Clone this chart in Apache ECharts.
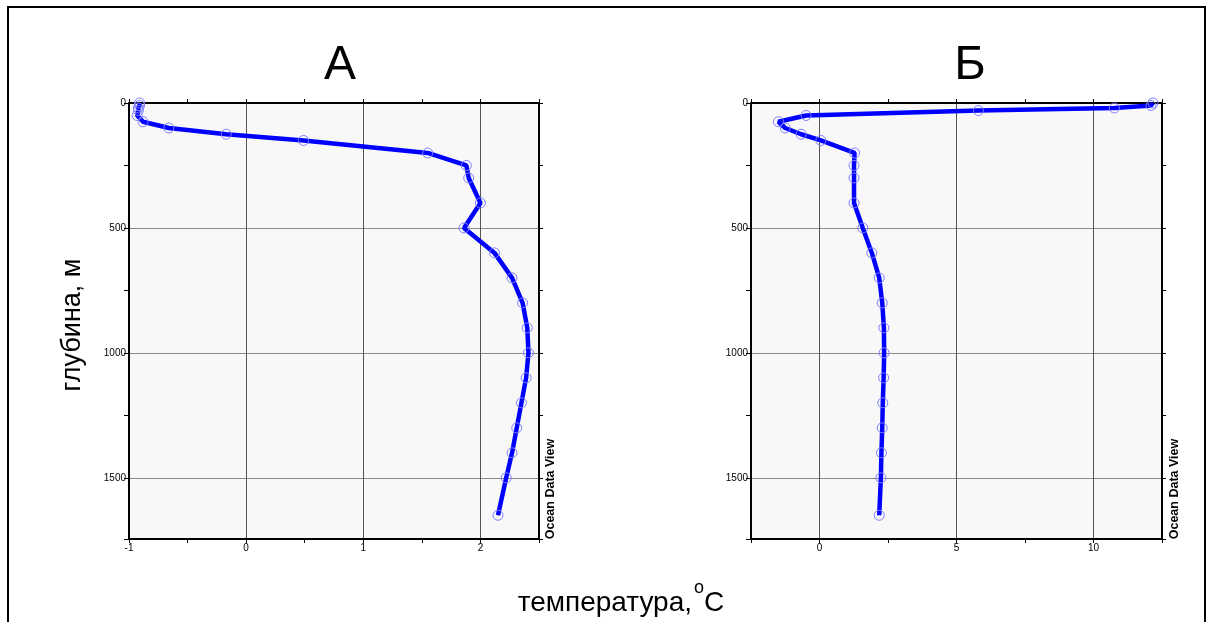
<!DOCTYPE html>
<html>
<head>
<meta charset="utf-8">
<script src="https://cdn.jsdelivr.net/npm/echarts@6/dist/echarts.min.js"></script>
<style>html,body{margin:0;padding:0;background:#fff}#c{width:1207px;height:622px}</style>
</head>
<body>
<div id="c"></div>
<script>
// Depths (m)
const depthsA = [0,10,20,30,50,75,100,125,150,200,250,300,400,500,600,700,800,900,1000,1100,1200,1300,1400,1500,1650];
const depthsB = [0,10,20,30,50,75,100,125,150,200,250,300,400,500,600,700,800,900,1000,1100,1200,1300,1400,1500,1650];
// Temperatures (°C)
const tempA = [-0.91,-0.91,-0.92,-0.92,-0.93,-0.88,-0.66,-0.17,0.49,1.55,1.88,1.90,2.00,1.86,2.12,2.27,2.36,2.40,2.41,2.39,2.35,2.31,2.27,2.22,2.15];
const tempB = [12.17,12.10,10.76,5.80,-0.49,-1.50,-1.25,-0.67,0.05,1.28,1.26,1.26,1.26,1.58,1.91,2.18,2.29,2.35,2.36,2.34,2.31,2.29,2.26,2.24,2.18];
// Titles / labels
const panelTitles = ['А', 'Б'];
const yLabel = 'глубина, м';
const xLabelMain = 'температура,';
const xLabelSup = 'o';
const xLabelUnit = 'C';
const credit = 'Ocean Data View';

const FONT = 'Liberation Sans, Arial, sans-serif';
const chart = echarts.init(document.getElementById('c'), null, {renderer: 'canvas'});

function xAxes(gi, min, max, step, labelEvery, gridColors) {
  return [
    {
      gridIndex: gi, type: 'value', position: 'bottom', min: min, max: max, interval: step,
      axisLine: {show: true, onZero: false, lineStyle: {color: '#000', width: 2}},
      axisTick: {show: true, inside: false, length: 4, lineStyle: {color: '#000', width: 1}},
      axisLabel: {show: true, fontSize: 10, color: '#000', fontFamily: FONT, margin: 4,
        formatter: v => (Math.abs(v / labelEvery - Math.round(v / labelEvery)) < 1e-6 && v > min - 1e-9 && v < max - 1e-6) ? String(v) : ''},
      splitLine: {show: true, lineStyle: {color: gridColors, width: 1}}
    },
    {
      gridIndex: gi, type: 'value', position: 'top', min: min, max: max, interval: step,
      axisLine: {show: true, onZero: false, lineStyle: {color: '#000', width: 2}},
      axisTick: {show: true, inside: false, length: 4, lineStyle: {color: '#000', width: 1}},
      axisLabel: {show: false}, splitLine: {show: false}
    }
  ];
}
function yAxes(gi) {
  return [
    {
      gridIndex: gi, type: 'value', position: 'left', inverse: true, min: 0, max: 1745, interval: 250,
      axisLine: {show: true, onZero: false, lineStyle: {color: '#000', width: 2}},
      axisTick: {show: true, inside: false, length: 5, lineStyle: {color: '#000', width: 1}},
      axisLabel: {show: true, fontSize: 10, color: '#000', fontFamily: FONT, margin: 3,
        formatter: v => (v % 500 === 0) ? String(v) : ''},
      splitLine: {show: true, lineStyle: {color: ['#8a8a8a', 'rgba(0,0,0,0)'], width: 1}}
    },
    {
      gridIndex: gi, type: 'value', position: 'right', inverse: true, min: 0, max: 1745, interval: 250,
      axisLine: {show: true, onZero: false, lineStyle: {color: '#000', width: 2}},
      axisTick: {show: true, inside: false, length: 4, lineStyle: {color: '#000', width: 1}},
      axisLabel: {show: false}, splitLine: {show: false}
    }
  ];
}

function seriesFor(xi, yi, temps, depths) {
  return {
    type: 'line', xAxisIndex: xi, yAxisIndex: yi,
    data: temps.map((t, i) => [t, depths[i]]),
    showAllSymbol: true, symbol: 'circle', symbolSize: 10,
    lineStyle: {color: '#0000ff', width: 4.5},
    itemStyle: {color: 'rgba(0,0,0,0)', borderColor: '#7f7fff', borderWidth: 1},
    emphasis: {disabled: true}, z: 3
  };
}

const option = {
  animation: false,
  backgroundColor: '#fff',
  grid: [
    {left: 129, top: 103, width: 410, height: 436, show: true, backgroundColor: '#f8f8f8', borderWidth: 0},
    {left: 751, top: 103, width: 411, height: 436, show: true, backgroundColor: '#f8f8f8', borderWidth: 0}
  ],
  xAxis: [
    ...xAxes(0, -1, 2.5, 0.5, 1, ['#555', 'rgba(0,0,0,0)']),
    ...xAxes(1, -2.5, 12.5, 2.5, 5, ['rgba(0,0,0,0)', '#555'])
  ],
  yAxis: [...yAxes(0), ...yAxes(1)],
  series: [
    seriesFor(0, 0, tempA, depthsA),
    seriesFor(2, 2, tempB, depthsB)
  ],
  graphic: [
    {type: 'polyline', shape: {points: [[8, 622], [8, 7], [1205, 7], [1205, 622]]}, style: {stroke: '#000', lineWidth: 2, fill: null}},
    {type: 'text', x: 340, y: 66, style: {text: panelTitles[0], font: '48px ' + FONT, fill: '#000', align: 'center', verticalAlign: 'middle'}},
    {type: 'text', x: 970, y: 66, style: {text: panelTitles[1], font: '48px ' + FONT, fill: '#000', align: 'center', verticalAlign: 'middle'}},
    {type: 'text', x: 73, y: 325, rotation: Math.PI / 2, style: {text: yLabel, font: '27px ' + FONT, fill: '#000', align: 'center', verticalAlign: 'middle'}},
    {type: 'text', x: 692, y: 603, style: {text: xLabelMain, font: '28px ' + FONT, fill: '#000', align: 'right', verticalAlign: 'middle'}},
    {type: 'text', x: 694, y: 588, style: {text: xLabelSup, font: '18px ' + FONT, fill: '#000', align: 'left', verticalAlign: 'middle'}},
    {type: 'text', x: 704, y: 603, style: {text: xLabelUnit, font: '28px ' + FONT, fill: '#000', align: 'left', verticalAlign: 'middle'}},
    {type: 'text', x: 551, y: 489, rotation: Math.PI / 2, style: {text: credit, font: 'bold 12.5px ' + FONT, fill: '#000', align: 'center', verticalAlign: 'middle'}},
    {type: 'text', x: 1175, y: 489, rotation: Math.PI / 2, style: {text: credit, font: 'bold 12.5px ' + FONT, fill: '#000', align: 'center', verticalAlign: 'middle'}}
  ]
};
chart.setOption(option);
</script>
</body>
</html>
